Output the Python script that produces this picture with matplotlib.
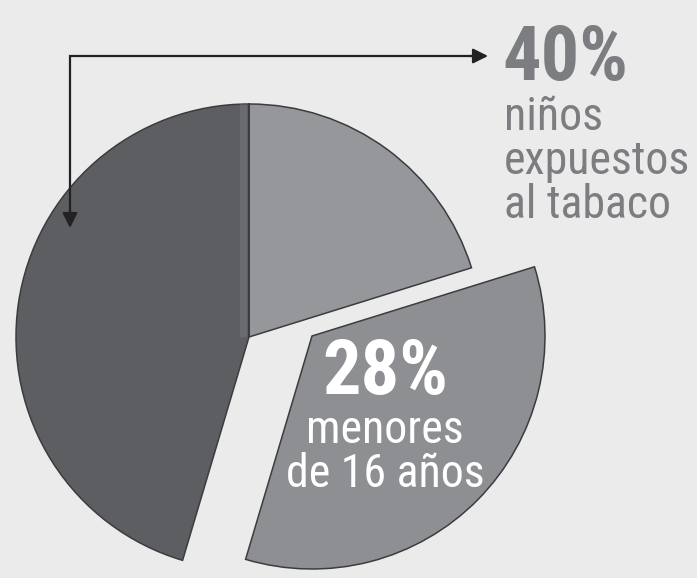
import matplotlib.pyplot as plt
from matplotlib import font_manager

# chart data (wedge shares as drawn, clockwise from 12 o'clock)
slice_names = ["resto", "menores de 16 años", "niños expuestos al tabaco"]
slice_sizes = [20.2, 34.4, 45.4]
slice_colors = ["#96979a", "#8e8f92", "#5c5e61"]
big_label = "40%"
big_text = ["niños", "expuestos", "al tabaco"]
inner_label = "28%"
inner_text = ["menores", "de 16 años"]

W, H = 697, 578
BG = "#ebebeb"


def Y(py):
    # pixel row -> data y
    return H - py


names = {f.name for f in font_manager.fontManager.ttflist}
narrow = "DejaVu Sans"
for n in ["Liberation Sans Narrow", "Roboto Condensed", "Open Sans Condensed", "Liberation Sans"]:
    if n in names:
        narrow = n
        break

fig = plt.figure(figsize=(W / 100, H / 100), dpi=100, facecolor=BG)
ax = fig.add_axes([0, 0, 1, 1])
ax.set_facecolor(BG)

cx, cy, r = 249, Y(337), 233
wedges, _ = ax.pie(slice_sizes, colors=slice_colors, startangle=90, counterclock=False,
                   center=(cx, cy), radius=r,
                   wedgeprops=dict(edgecolor="#3b3c3e", linewidth=1.1))
# the "menores" slice is pulled out to the right
wedges[1].set_center((cx + 63, cy + 1))

# shading band along the top divider
band, = ax.plot([243, 243], [cy, cy + r], color="#696b6e", lw=5, solid_capstyle="butt", zorder=3)
band.set_clip_path(wedges[2])
ax.plot([248.5, 248.5], [cy, cy + r], color="#3b3c3e", lw=1.1, zorder=3)

ax.set_xlim(0, W)
ax.set_ylim(0, H)
ax.set_aspect("equal")
ax.axis("off")

# elbow arrow
ax.plot([70, 70, 478], [Y(215), Y(56), Y(56)], color="#222222", lw=1.6,
        solid_joinstyle="miter", zorder=4)
ax.annotate("", xy=(488, Y(56)), xytext=(470, Y(56)),
            arrowprops=dict(arrowstyle="-|>,head_length=0.9,head_width=0.45",
                            color="#222222", lw=1.6, shrinkA=0, shrinkB=0), zorder=4)
ax.annotate("", xy=(70, Y(228)), xytext=(70, Y(210)),
            arrowprops=dict(arrowstyle="-|>,head_length=0.9,head_width=0.45",
                            color="#222222", lw=1.6, shrinkA=0, shrinkB=0), zorder=4)

# outside label
ax.text(502, Y(80), big_label, fontsize=55, fontweight="bold", color="#7c7d80",
        family=narrow, ha="left", va="baseline")
ax.text(504, Y(227), "\n".join(big_text), fontsize=33, color="#7c7d80",
        family=narrow, ha="left", va="bottom", linespacing=1.0)

# inside label
ax.text(385, Y(394), inner_label, fontsize=55, fontweight="bold", color="white",
        family=narrow, ha="center", va="baseline", zorder=5)
ax.text(385, Y(496), "\n".join(inner_text), fontsize=33, color="white",
        family=narrow, ha="center", va="bottom", linespacing=1.0, zorder=5)

fig.savefig("out.png", dpi=100, facecolor=BG)
